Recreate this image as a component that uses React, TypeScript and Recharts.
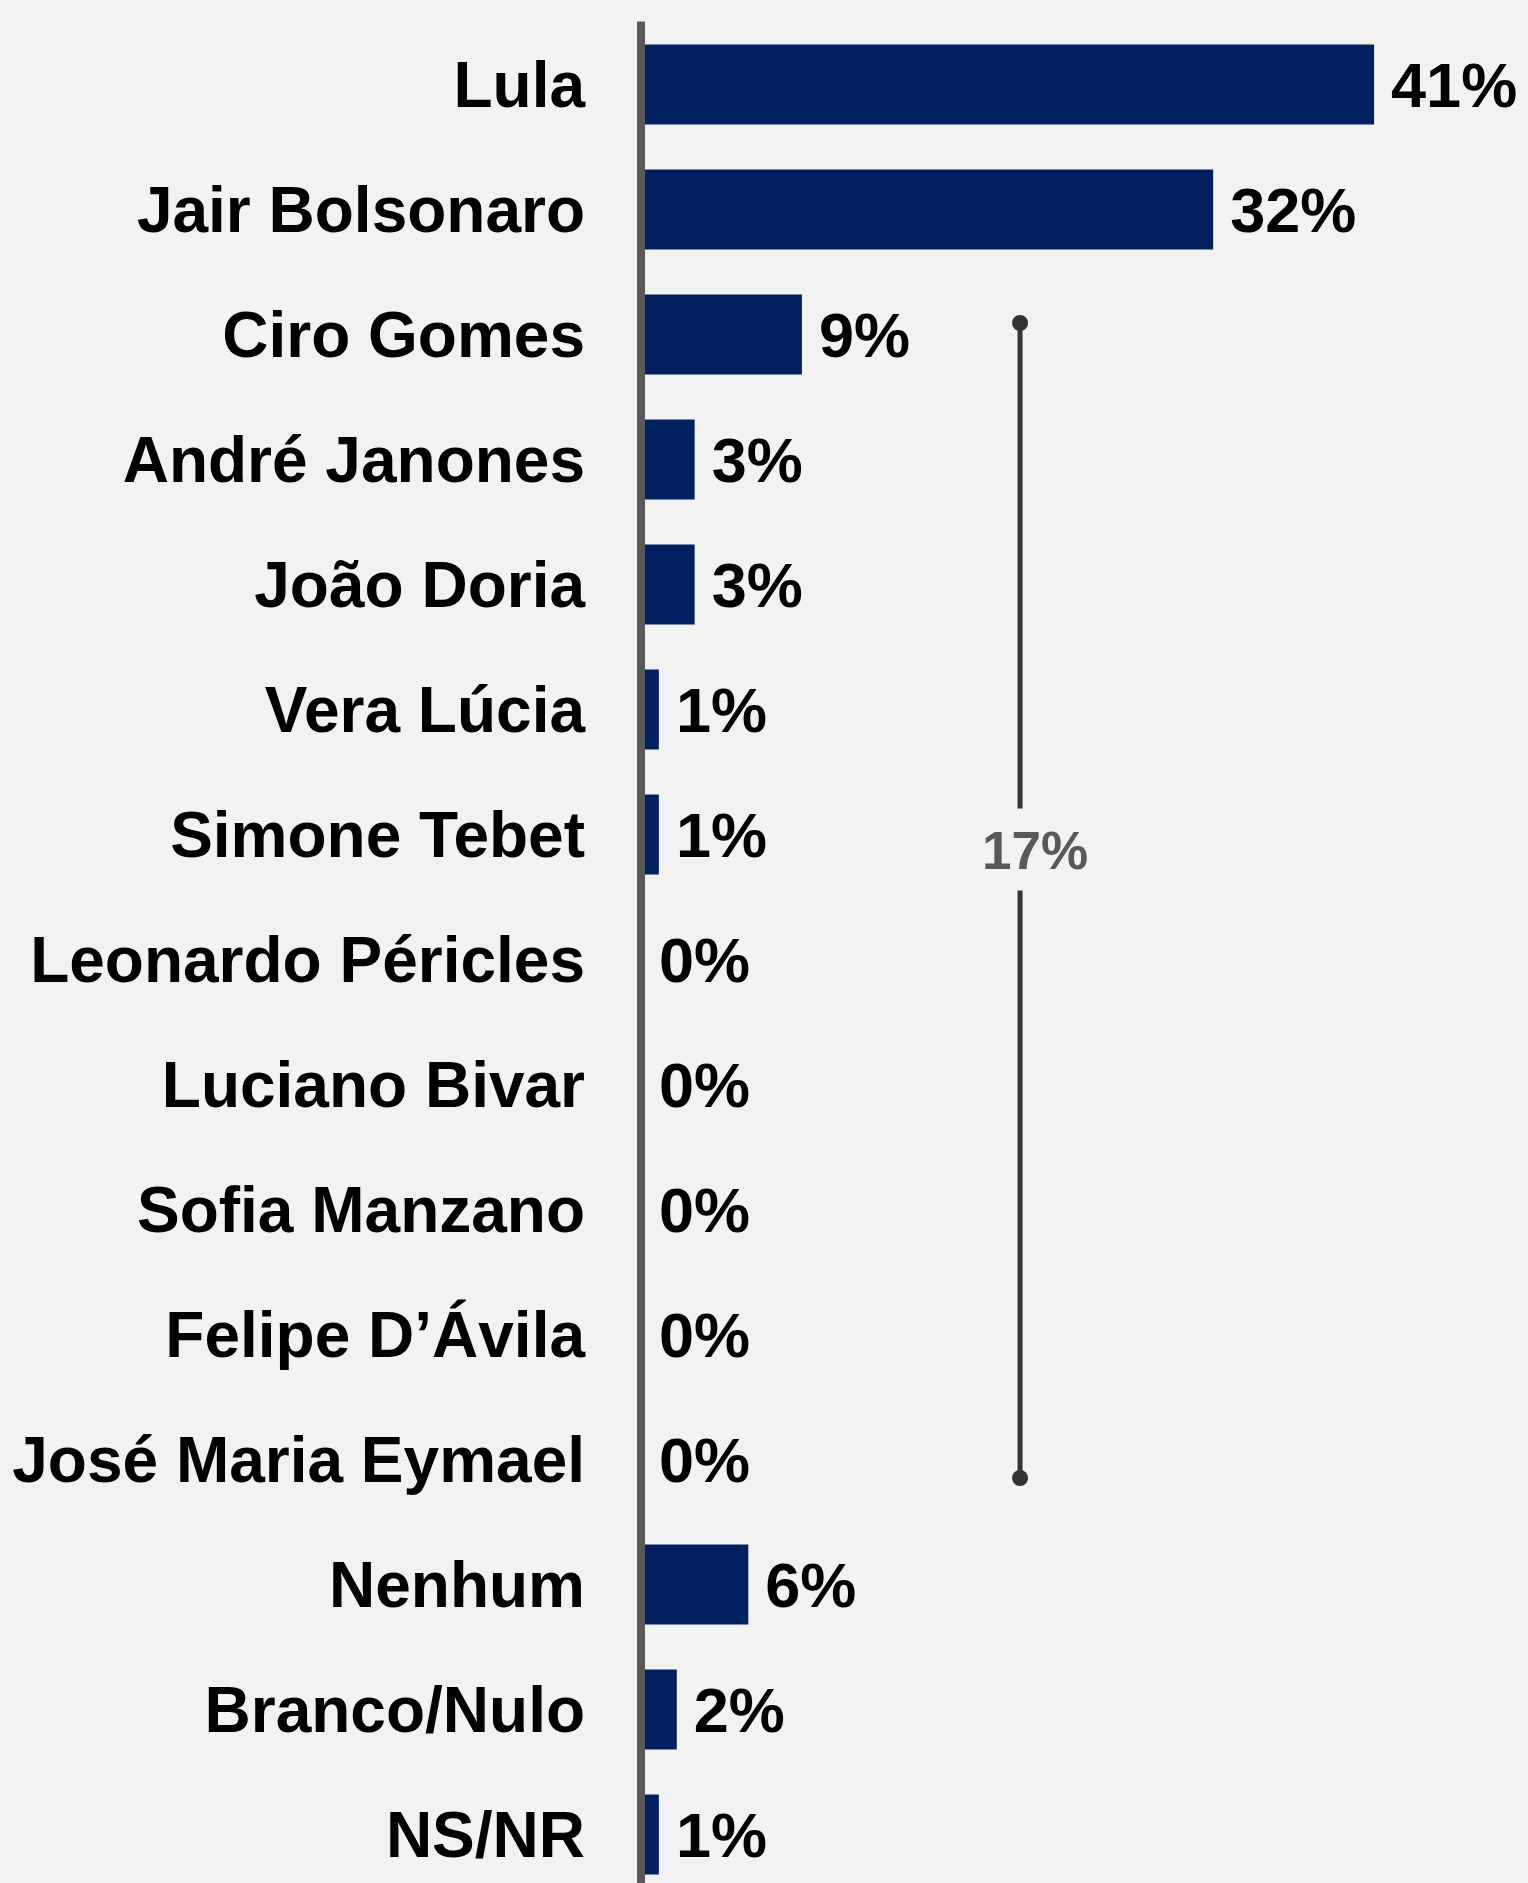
import { BarChart, Bar, XAxis, YAxis, LabelList, ReferenceLine } from "recharts";

const CANDIDATES = [
  "Lula", "Jair Bolsonaro", "Ciro Gomes", "André Janones", "João Doria",
  "Vera Lúcia", "Simone Tebet", "Leonardo Péricles", "Luciano Bivar",
  "Sofia Manzano", "Felipe D’Ávila", "José Maria Eymael", "Nenhum",
  "Branco/Nulo", "NS/NR",
];
const VOTES = [41, 32, 9, 3, 3, 1, 1, 0, 0, 0, 0, 0, 6, 2, 1];

// bracket grouping the smaller candidates
const BRACKET_FROM = "Ciro Gomes";
const BRACKET_TO = "José Maria Eymael";
const BRACKET_LABEL = "17%";
const BRACKET_X = 21.2;

const BG = "#f2f2f2";
const NAVY = "#002060";
const FONT = "'Liberation Sans', Arial, Helvetica, sans-serif";

const data = CANDIDATES.map((name, i) => ({ name, value: VOTES[i] }));

// draws the bracket itself: line with a gap for the label, dots at both ends
function Bracket(props: any) {
  const vb = props.viewBox;
  if (!vb) return null;
  const cx = vb.x + (vb.width ?? 0) / 2;
  const top = vb.y - 11;
  const bottom = vb.y + (vb.height ?? 0) + 19;
  const mid = (top + bottom) / 2 - 50;
  return (
    <g>
      <line x1={cx} x2={cx} y1={top} y2={mid - 42} stroke="#333" strokeWidth={5} />
      <line x1={cx} x2={cx} y1={mid + 40} y2={bottom} stroke="#333" strokeWidth={5} />
      <circle cx={cx} cy={top} r={8} fill="#333" />
      <circle cx={cx} cy={bottom} r={8} fill="#333" />
      <text x={cx + 15} y={mid} dy="0.35em" textAnchor="middle"
        fontFamily={FONT} fontWeight={700} fontSize={53} fill="#595959">
        {BRACKET_LABEL}
      </text>
    </g>
  );
}

export default function App() {
  return (
    <div style={{ position: "absolute", top: 0, left: 0, width: 1528, height: 1883, overflow: "hidden", background: BG }}>
      <BarChart width={1528} height={1900} data={data} layout="vertical"
        margin={{ top: 21.5, right: 82.4, bottom: 3.5, left: 0 }}>
        <XAxis type="number" domain={[0, 45]} hide />
        <YAxis type="category" dataKey="name" width={641}
          axisLine={{ stroke: "#595959", strokeWidth: 8 }} tickLine={false}
          tickSize={0} tickMargin={56} interval={0}
          tick={{ fill: "#000", fontSize: 64, fontWeight: 700, fontFamily: FONT }} />
        <Bar dataKey="value" fill={NAVY} barSize={80} minPointSize={1} isAnimationActive={false}>
          <LabelList dataKey="value" position="right" offset={17}
            formatter={(v: any) => `${v}%`}
            style={{ fill: "#000", fontSize: 63, fontWeight: 700, fontFamily: FONT }} />
        </Bar>
        <ReferenceLine
          segment={[{ x: BRACKET_X, y: BRACKET_FROM }, { x: BRACKET_X, y: BRACKET_TO }]}
          stroke="none" strokeWidth={0} label={<Bracket />} />
      </BarChart>
    </div>
  );
}
